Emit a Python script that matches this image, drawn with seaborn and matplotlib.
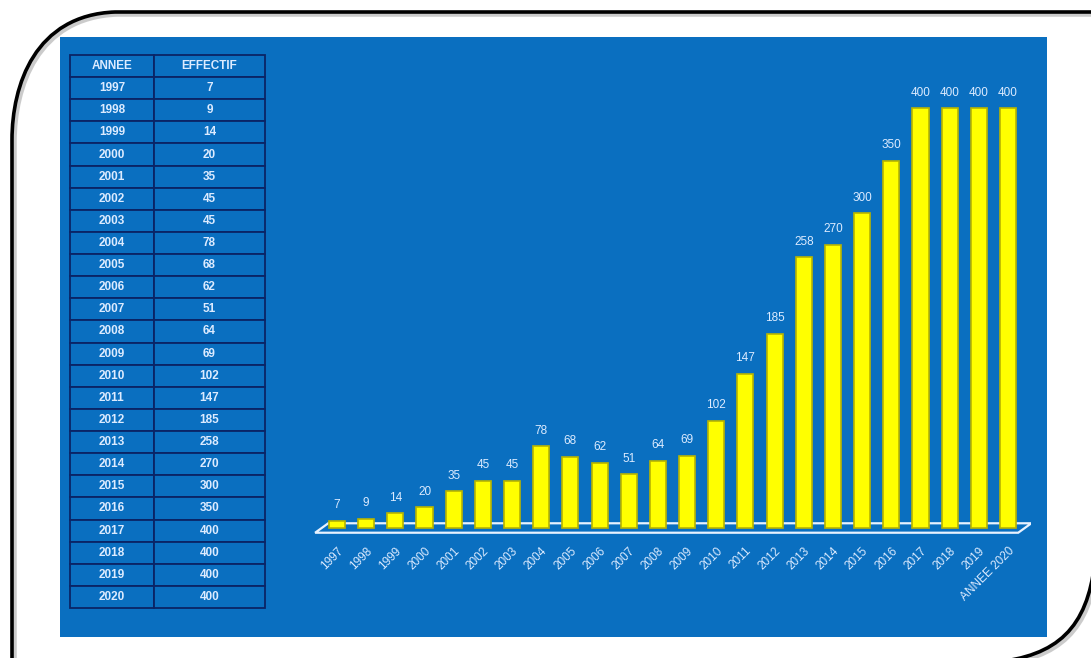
import matplotlib
matplotlib.use("Agg")
import matplotlib.pyplot as plt
from matplotlib.patches import Rectangle, Polygon, PathPatch
from matplotlib.path import Path
import seaborn as sns
import pandas as pd

# Data
years = [1997, 1998, 1999, 2000, 2001, 2002, 2003, 2004, 2005, 2006, 2007, 2008,
         2009, 2010, 2011, 2012, 2013, 2014, 2015, 2016, 2017, 2018, 2019, 2020]
effectif = [7, 9, 14, 20, 35, 45, 45, 78, 68, 62, 51, 64,
            69, 102, 147, 185, 258, 270, 300, 350, 400, 400, 400, 400]
tick_labels = [str(y) for y in years[:-1]] + ["ANNEE 2020"]
table_header = ["ANNEE", "EFFECTIF"]

W, H = 1091, 658
BLUE = "#0A6FC0"
GRID = "#0B2466"
LIGHT = "#DCEBFF"
YELLOW = "#FFFF00"

sns.set_theme(style="white")
plt.rcParams["font.family"] = ["Liberation Sans", "DejaVu Sans"]

fig = plt.figure(figsize=(W / 100, H / 100), dpi=100)
fig.patch.set_facecolor("white")


def fx(x):
    return x / W


def fy(y):
    return 1 - y / H


# Background layer in pixel coordinates
bg = fig.add_axes([0, 0, 1, 1])
bg.set_xlim(0, W)
bg.set_ylim(H, 0)
bg.axis("off")

# Rounded outer frame (top-left and bottom-right corners)
frame_verts = [(W + 5, 12), (115, 12), (35, 15), (12, 85), (12, 140), (12, H + 5)]
frame_codes = [Path.MOVETO, Path.LINETO, Path.CURVE4, Path.CURVE4, Path.CURVE4, Path.LINETO]
corner_verts = [(W + 5, 550), (W, 620), (1065, 652), (1005, H + 3)]
corner_codes = [Path.MOVETO, Path.CURVE4, Path.CURVE4, Path.CURVE4]
for verts, codes in [(frame_verts, frame_codes), (corner_verts, corner_codes)]:
    bg.add_patch(PathPatch(Path([(x + 2, y + 2) for x, y in verts], codes),
                           fill=False, edgecolor="#999999", lw=4, alpha=0.5))
    bg.add_patch(PathPatch(Path(verts, codes), fill=False, edgecolor="black", lw=2.6))

# Blue panel
bg.add_patch(Rectangle((60, 37), 987, 600, facecolor=BLUE, edgecolor="none"))

# Data table
tab_ax = fig.add_axes([fx(70), fy(608), fx(195), 553 / H])
tab_ax.axis("off")
cell_text = [[str(y), str(v)] for y, v in zip(years, effectif)]
tbl = tab_ax.table(cellText=cell_text, colLabels=table_header,
                   bbox=[0, 0, 1, 1], cellLoc="center",
                   colWidths=[0.43, 0.57])
tbl.auto_set_font_size(False)
for (r, c), cell in tbl.get_celld().items():
    cell.set_facecolor(BLUE)
    cell.set_edgecolor(GRID)
    cell.set_linewidth(1.3)
    cell.get_text().set_color(LIGHT)
    cell.get_text().set_fontsize(8.5)
    cell.get_text().set_fontweight("bold")

# Bar chart axes
px_per_unit = 1.05
base_y = 528
ymin, ymax = -8, 450
x0_px, step_px = 337, (1008 - 337) / 23
xmin, xmax = -0.8, 23.8
left_px = x0_px + xmin * step_px
right_px = x0_px + xmax * step_px
bottom_px = base_y - ymin * px_per_unit
top_px = base_y - ymax * px_per_unit
ax = fig.add_axes([fx(left_px), fy(bottom_px), fx(right_px - left_px),
                   (bottom_px - top_px) / H])
ax.patch.set_alpha(0)

df = pd.DataFrame({"annee": tick_labels, "effectif": effectif})

# Floor of the chart
ax.add_patch(Polygon([(-0.75, -4.5), (23.35, -4.5), (23.8, 4.5), (-0.3, 4.5)],
                     closed=True, facecolor=BLUE, edgecolor="#E8F2FF", lw=1.6,
                     zorder=1))

sns.barplot(data=df, x="annee", y="effectif", color=YELLOW, width=0.55,
            saturation=1, edgecolor="#B8B400", linewidth=1.2, ax=ax, zorder=2)

for i, v in enumerate(effectif):
    ax.text(i, v + 9, str(v), ha="center", va="bottom", color=LIGHT,
            fontsize=8.5)

ax.set_xlim(xmin, xmax)
ax.set_ylim(ymin, ymax)
ax.set_xlabel("")
ax.set_ylabel("")
ax.set_yticks([])
ax.set_xticks(range(len(tick_labels)))
ax.set_xticklabels(tick_labels, rotation=45, ha="right", va="top",
                   rotation_mode="anchor", color=LIGHT, fontsize=8.5)
ax.tick_params(axis="x", length=0, pad=6)
for s in ax.spines.values():
    s.set_visible(False)

fig.savefig("out.png", dpi=100, facecolor="white")
